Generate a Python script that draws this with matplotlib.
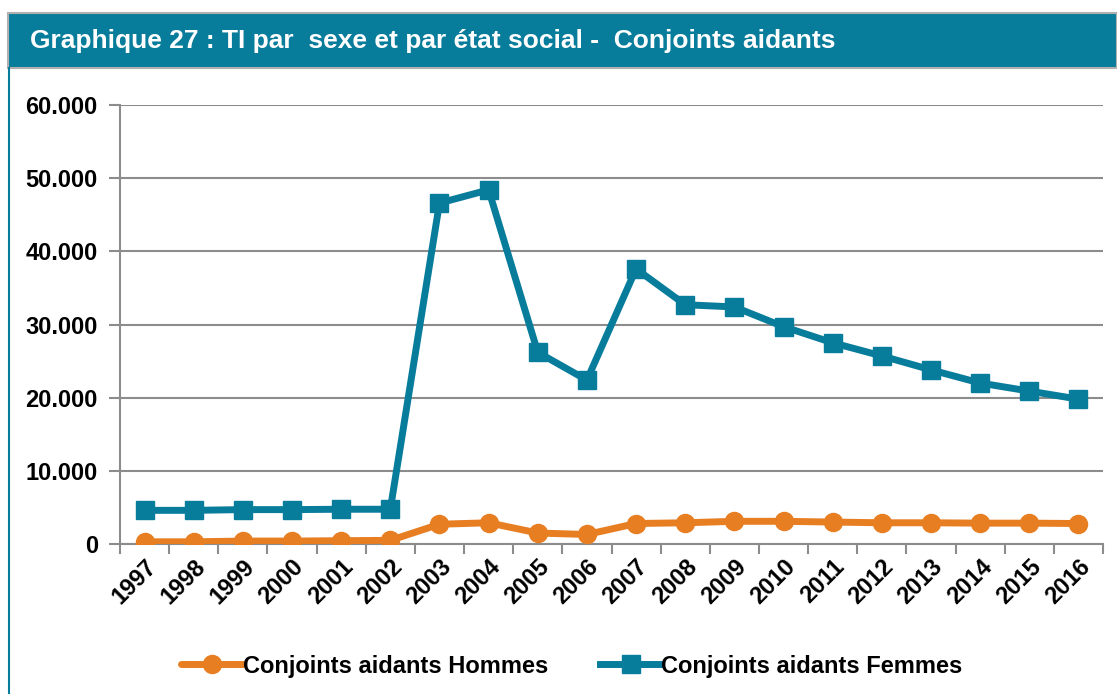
import matplotlib.pyplot as plt
from matplotlib.patches import Rectangle
from matplotlib.lines import Line2D
from matplotlib.ticker import FuncFormatter

plt.rcParams['font.family'] = ['Liberation Sans', 'DejaVu Sans']
plt.rcParams['font.weight'] = 'bold'

years = ['1997', '1998', '1999', '2000', '2001', '2002', '2003', '2004', '2005', '2006',
         '2007', '2008', '2009', '2010', '2011', '2012', '2013', '2014', '2015', '2016']
hommes = [300, 300, 400, 400, 450, 500, 2700, 2900, 1500, 1300,
          2800, 2900, 3100, 3100, 3000, 2900, 2900, 2850, 2850, 2800]
femmes = [4600, 4600, 4700, 4700, 4750, 4750, 46600, 48400, 26200, 22400,
          37600, 32700, 32400, 29700, 27500, 25700, 23800, 22000, 20900, 19800]

teal = '#087c9b'
orange = '#e87e22'

fig = plt.figure(figsize=(11.17, 6.94), dpi=100)
W, H = 1117, 694

# title bar
fig.patches.append(Rectangle((8 / W, 1 - 68 / H), 1 - 8 / W, 55 / H, transform=fig.transFigure,
                             facecolor=teal, edgecolor='#b0b0b0', linewidth=1.5, zorder=0))
fig.text(30 / W, 1 - 41 / H, 'Graphique 27 : TI par  sexe et par état social -  Conjoints aidants',
         color='white', fontsize=19, fontweight='bold', va='center', ha='left')
fig.lines.append(Line2D([9 / W, 9 / W], [0, 1 - 68 / H], transform=fig.transFigure,
                        color=teal, linewidth=1.5))

ax = fig.add_axes([120 / W, 1 - 544 / H, (1103 - 120) / W, (544 - 105) / H])
x = list(range(len(years)))
ax.plot(x, hommes, color=orange, linewidth=5, marker='o', markersize=13,
        label='Conjoints aidants Hommes', solid_capstyle='round', zorder=3)
ax.plot(x, femmes, color=teal, linewidth=5, marker='s', markersize=12.5,
        label='Conjoints aidants Femmes', solid_joinstyle='round', zorder=3)

ax.set_xlim(-0.5, len(years) - 0.5)
ax.set_ylim(0, 60000)
ax.set_yticks(range(0, 60001, 10000))
ax.yaxis.set_major_formatter(FuncFormatter(lambda v, p: f'{int(v):,}'.replace(',', '.')))
ax.grid(axis='y', color='#8c8c8c', linewidth=1.5, zorder=0)
ax.set_axisbelow(True)

ax.set_xticks([i - 0.5 for i in range(len(years) + 1)])
ax.set_xticklabels([])
ax.set_xticks(x, minor=True)
ax.set_xticklabels(years, minor=True, rotation=45, ha='right', va='top',
                   rotation_mode='anchor', fontsize=17, fontweight='bold')
ax.tick_params(axis='x', which='minor', length=0, pad=8)
ax.tick_params(axis='x', which='major', length=7, width=1.5, color='#8c8c8c', direction='out')
ax.tick_params(axis='y', length=8, width=1.5, color='#8c8c8c', labelsize=17, pad=8)
for lab in ax.get_yticklabels():
    lab.set_fontweight('bold')

for s in ['top', 'right']:
    ax.spines[s].set_visible(False)
for s in ['left', 'bottom']:
    ax.spines[s].set_color('#8c8c8c')
    ax.spines[s].set_linewidth(1.5)

fig.legend(loc='center', bbox_to_anchor=(0.512, 1 - 666 / H), ncol=2, frameon=False,
           prop={'size': 17, 'weight': 'bold'}, handlelength=2.6, handletextpad=0.0,
           columnspacing=2.2)

fig.savefig('out.png', dpi=100)
